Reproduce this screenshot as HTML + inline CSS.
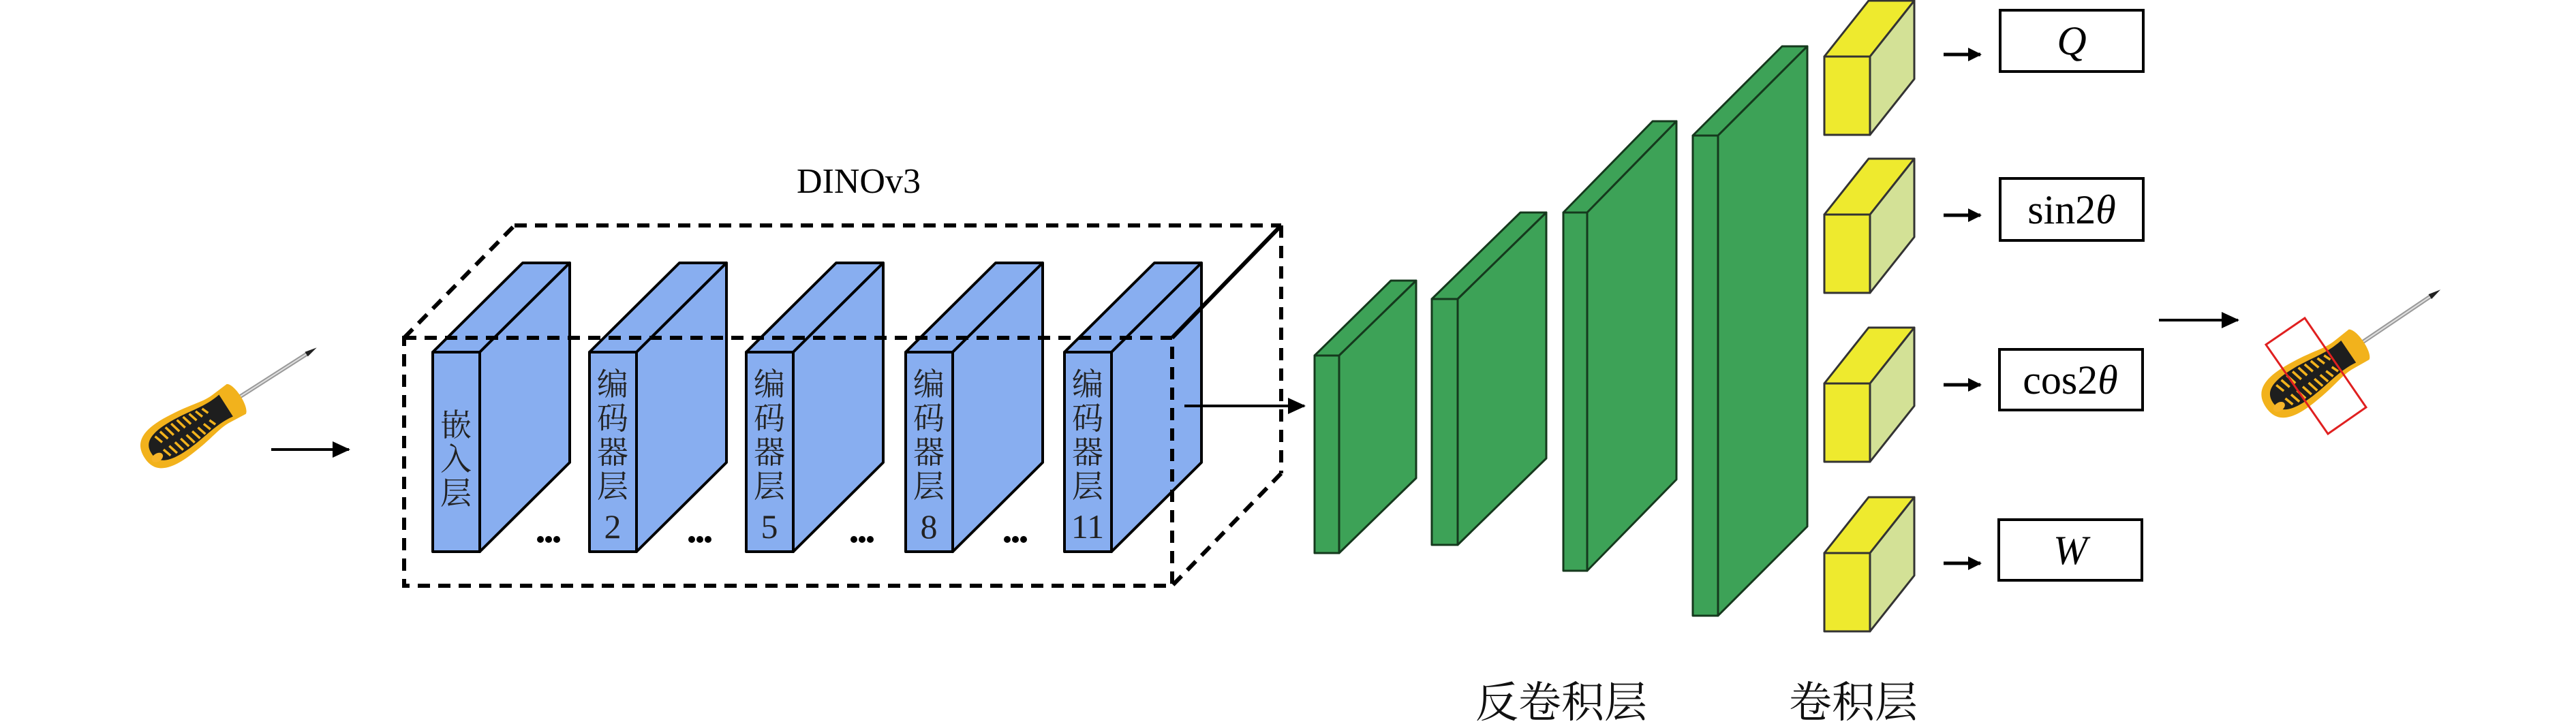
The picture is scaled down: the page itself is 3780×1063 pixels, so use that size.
<!DOCTYPE html>
<html><head><meta charset="utf-8"><style>html,body{margin:0;padding:0;background:#fff}svg{display:block}</style></head>
<body>
<svg width="3780" height="1063" viewBox="0 0 3780 1063" xmlns="http://www.w3.org/2000/svg">
<defs>
<marker id="ah" markerWidth="26" markerHeight="24" refX="24" refY="12" orient="auto" markerUnits="userSpaceOnUse" viewBox="0 0 26 24"><path d="M0,0 L26,12 L0,24 z" fill="#000"/></marker>
<marker id="ahs" markerWidth="20" markerHeight="20" refX="18" refY="10" orient="auto" markerUnits="userSpaceOnUse" viewBox="0 0 20 20"><path d="M0,0 L20,10 L0,20 z" fill="#000"/></marker>
<g id="sd">
  <rect x="160" y="-3" width="125" height="6" fill="#9a9a9a"/>
  <rect x="160" y="-1" width="125" height="2" fill="#e0e0e0"/>
  <path d="M282,-4 L300,0 L282,4 z" fill="#222"/>
  <path d="M0,0 C0,-28 22,-36 60,-33 C100,-30 115,-22 135,-24 L160,-26 C170,-20 170,20 160,26 L135,24 C115,22 100,30 60,33 C22,36 0,28 0,0 z" fill="#f2b21c"/>
  <path d="M12,0 C12,-20 30,-26 65,-24 C95,-22 115,-15 142,-19 L142,19 C115,15 95,22 65,24 C30,26 12,20 12,0 z" fill="#1e1e1e"/>
  <g stroke="#f2b21c" stroke-width="3.5">
    <line x1="30" y1="-18" x2="34" y2="-5"/><line x1="40" y1="-20" x2="44" y2="-5"/><line x1="50" y1="-21" x2="54" y2="-5"/><line x1="60" y1="-21" x2="64" y2="-5"/><line x1="70" y1="-21" x2="74" y2="-5"/><line x1="80" y1="-20" x2="84" y2="-5"/><line x1="90" y1="-19" x2="94" y2="-5"/><line x1="100" y1="-17" x2="104" y2="-5"/><line x1="110" y1="-15" x2="114" y2="-5"/>
    <line x1="30" y1="5" x2="34" y2="18"/><line x1="40" y1="5" x2="44" y2="20"/><line x1="50" y1="5" x2="54" y2="21"/><line x1="60" y1="5" x2="64" y2="21"/><line x1="70" y1="5" x2="74" y2="21"/><line x1="80" y1="5" x2="84" y2="20"/><line x1="90" y1="5" x2="94" y2="19"/><line x1="100" y1="5" x2="104" y2="17"/><line x1="110" y1="5" x2="114" y2="15"/>
  </g>
  <ellipse cx="16" cy="10" rx="9" ry="6" fill="#f7b52a"/>
</g>
</defs>

<use href="#sd" transform="translate(212,672) rotate(-32.6)"/>
<line x1="398" y1="660" x2="512" y2="660" stroke="#000" stroke-width="4" marker-end="url(#ah)"/>

<text x="1260" y="283" font-family="Liberation Serif, serif" font-size="52" text-anchor="middle">DINOv3</text>

<g stroke="#000" stroke-width="4" fill="#88aef0" stroke-linejoin="round">
  <g transform="translate(635,0)"><path d="M0,517 L132,386 L201,386 L69,517 z"/><path d="M69,517 L201,386 L201,679 L69,810 z"/><rect x="0" y="517" width="69" height="293"/></g>
  <g transform="translate(865,0)"><path d="M0,517 L132,386 L201,386 L69,517 z"/><path d="M69,517 L201,386 L201,679 L69,810 z"/><rect x="0" y="517" width="69" height="293"/></g>
  <g transform="translate(1095,0)"><path d="M0,517 L132,386 L201,386 L69,517 z"/><path d="M69,517 L201,386 L201,679 L69,810 z"/><rect x="0" y="517" width="69" height="293"/></g>
  <g transform="translate(1329,0)"><path d="M0,517 L132,386 L201,386 L69,517 z"/><path d="M69,517 L201,386 L201,679 L69,810 z"/><rect x="0" y="517" width="69" height="293"/></g>
  <g transform="translate(1562,0)"><path d="M0,517 L132,386 L201,386 L69,517 z"/><path d="M69,517 L201,386 L201,679 L69,810 z"/><rect x="0" y="517" width="69" height="293"/></g>
</g>
<g font-family="Liberation Serif, Noto Serif CJK SC, serif" font-size="46" fill="#222" text-anchor="middle">
  <text x="669" y="640">嵌</text><text x="669" y="690">入</text><text x="669" y="740">层</text>
  <text x="899" y="580">编</text><text x="899" y="630">码</text><text x="899" y="680">器</text><text x="899" y="730">层</text><text x="899" y="790" font-size="50">2</text>
  <text x="1129" y="580">编</text><text x="1129" y="630">码</text><text x="1129" y="680">器</text><text x="1129" y="730">层</text><text x="1129" y="790" font-size="50">5</text>
  <text x="1363" y="580">编</text><text x="1363" y="630">码</text><text x="1363" y="680">器</text><text x="1363" y="730">层</text><text x="1363" y="790" font-size="50">8</text>
  <text x="1596" y="580">编</text><text x="1596" y="630">码</text><text x="1596" y="680">器</text><text x="1596" y="730">层</text><text x="1596" y="790" font-size="50">11</text>
</g>
<g fill="#000">
  <circle cx="793" cy="792" r="5"/><circle cx="805" cy="792" r="5"/><circle cx="817" cy="792" r="5"/>
  <circle cx="1015" cy="792" r="5"/><circle cx="1027" cy="792" r="5"/><circle cx="1039" cy="792" r="5"/>
  <circle cx="1253" cy="792" r="5"/><circle cx="1265" cy="792" r="5"/><circle cx="1277" cy="792" r="5"/>
  <circle cx="1478" cy="792" r="5"/><circle cx="1490" cy="792" r="5"/><circle cx="1502" cy="792" r="5"/>
</g>

<g stroke="#000" stroke-width="6" fill="none" stroke-dasharray="18 12">
  <rect x="593" y="496" width="1127" height="364"/>
  <line x1="755" y1="331" x2="1880" y2="331"/>
  <line x1="593" y1="496" x2="755" y2="331"/>
  <line x1="1880" y1="331" x2="1880" y2="695"/>
  <line x1="1880" y1="695" x2="1720" y2="860"/>
</g>
<line x1="1880" y1="331" x2="1720" y2="496" stroke="#000" stroke-width="6"/>

<line x1="1738" y1="596" x2="1914" y2="596" stroke="#000" stroke-width="4" marker-end="url(#ah)"/>

<g stroke="#15391d" stroke-width="3" fill="#3da257" stroke-linejoin="round">
  <path d="M1929,522 L2041,412 L2078,412 L1965,522 z"/><path d="M1965,522 L2078,412 L2078,702 L1965,812 z"/><rect x="1929" y="522" width="36" height="290"/>
  <path d="M2101,439 L2231,312 L2269,312 L2139,439 z"/><path d="M2139,439 L2269,312 L2269,673 L2139,800 z"/><rect x="2101" y="439" width="38" height="361"/>
  <path d="M2294,312 L2425,178 L2460,178 L2329,312 z"/><path d="M2329,312 L2460,178 L2460,704 L2329,838 z"/><rect x="2294" y="312" width="35" height="526"/>
  <path d="M2484,199 L2615,68 L2652,68 L2521,199 z"/><path d="M2521,199 L2652,68 L2652,773 L2521,904 z"/><rect x="2484" y="199" width="37" height="705"/>
</g>

<g stroke="#333" stroke-width="3" stroke-linejoin="round">
  <g><path d="M2677,83 L2742,1 L2809,1 L2744,83 z" fill="#eeea2e"/><path d="M2744,83 L2809,1 L2809,116 L2744,198 z" fill="#d3e196"/><rect x="2677" y="83" width="67" height="115" fill="#eeea2e"/></g>
  <g transform="translate(0,232)"><path d="M2677,83 L2742,1 L2809,1 L2744,83 z" fill="#eeea2e"/><path d="M2744,83 L2809,1 L2809,116 L2744,198 z" fill="#d3e196"/><rect x="2677" y="83" width="67" height="115" fill="#eeea2e"/></g>
  <g transform="translate(0,480)"><path d="M2677,83 L2742,1 L2809,1 L2744,83 z" fill="#eeea2e"/><path d="M2744,83 L2809,1 L2809,116 L2744,198 z" fill="#d3e196"/><rect x="2677" y="83" width="67" height="115" fill="#eeea2e"/></g>
  <g transform="translate(0,729)"><path d="M2677,83 L2742,1 L2809,1 L2744,83 z" fill="#eeea2e"/><path d="M2744,83 L2809,1 L2809,116 L2744,198 z" fill="#d3e196"/><rect x="2677" y="83" width="67" height="115" fill="#eeea2e"/></g>
</g>

<g stroke="#000" stroke-width="5">
  <line x1="2852" y1="80" x2="2906" y2="80" marker-end="url(#ahs)"/>
  <line x1="2852" y1="316" x2="2906" y2="316" marker-end="url(#ahs)"/>
  <line x1="2852" y1="565" x2="2906" y2="565" marker-end="url(#ahs)"/>
  <line x1="2852" y1="827" x2="2906" y2="827" marker-end="url(#ahs)"/>
</g>

<g stroke="#000" stroke-width="4" fill="#fff">
  <rect x="2935" y="15" width="210" height="90"/>
  <rect x="2935" y="262" width="210" height="91"/>
  <rect x="2934" y="513" width="210" height="89"/>
  <rect x="2933" y="763" width="210" height="89"/>
</g>
<g font-family="Liberation Serif, serif" font-size="60" text-anchor="middle">
  <text x="3040" y="80" font-style="italic">Q</text>
  <text x="3040" y="328">sin2<tspan font-style="italic">θ</tspan></text>
  <text x="3038" y="578">cos2<tspan font-style="italic">θ</tspan></text>
  <text x="3038" y="828" font-style="italic">W</text>
</g>

<g font-family="Liberation Serif, Noto Serif CJK SC, serif" font-size="63" fill="#111">
  <text x="2165" y="1053">反卷积层</text>
  <text x="2625" y="1053">卷积层</text>
</g>

<line x1="3168" y1="470" x2="3284" y2="470" stroke="#000" stroke-width="4" marker-end="url(#ah)"/>
<use href="#sd" transform="translate(3325,598) rotate(-34) scale(1.03)"/>
<polygon points="3325,506 3382,467 3472,598 3416,637" fill="none" stroke="#e02020" stroke-width="3"/>
</svg>
</body></html>
